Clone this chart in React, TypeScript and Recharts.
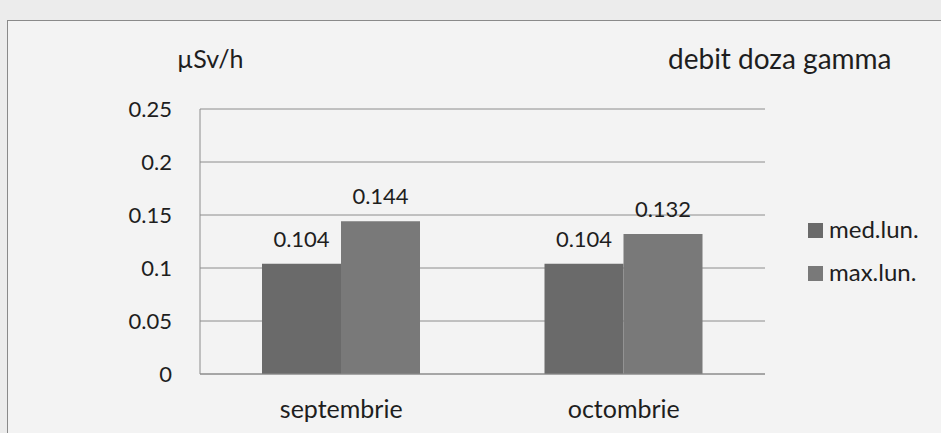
import React from 'react';
import { BarChart, Bar, XAxis, YAxis, CartesianGrid, LabelList } from 'recharts';

const categories = ['septembrie', 'octombrie'];
const medLun = [0.104, 0.104];
const maxLun = [0.144, 0.132];
const yTicks = [0, 0.05, 0.1, 0.15, 0.2, 0.25];
const seriesNames = ['med.lun.', 'max.lun.'];
const seriesColors = ['#6a6a6a', '#797979'];

const data = categories.map((c, i) => ({ name: c, med: medLun[i], max: maxLun[i] }));

const FONT = 'Lato, "Open Sans", sans-serif';
const INK = '#1e1e1e';

export default function App() {
  return (
    <div style={{ position: 'absolute', left: 0, top: 0, width: 941, height: 433, background: '#ececec', overflow: 'hidden', fontFamily: FONT }}>
      <div style={{ position: 'absolute', left: 7, top: 20, width: 1000, height: 500, border: '1px solid #8a8a8a', background: '#f3f3f3' }} />
      <div style={{ position: 'absolute', left: 0, top: 0 }}>
        <BarChart
          width={941}
          height={433}
          data={data}
          margin={{ top: 109, right: 176, bottom: 29, left: 140 }}
          barCategoryGap={62}
          barGap={0}
        >
          <CartesianGrid vertical={false} stroke="#8c8c8c" strokeWidth={1} />
          <XAxis
            dataKey="name"
            tickLine={false}
            axisLine={{ stroke: '#8c8c8c' }}
            tick={{ fill: INK, fontSize: 25, fontFamily: FONT }}
            tickMargin={20}
          />
          <YAxis
            width={60}
            domain={[0, 0.25]}
            ticks={yTicks}
            tickLine={false}
            tickSize={0}
            tickMargin={28}
            axisLine={{ stroke: '#8c8c8c' }}
            tick={{ fill: INK, fontSize: 22, fontFamily: FONT }}
            interval={0}
          />
          <Bar dataKey="med" fill={seriesColors[0]} isAnimationActive={false}>
            <LabelList dataKey="med" position="top" offset={17} fill={INK} fontSize={22} fontFamily={FONT} />
          </Bar>
          <Bar dataKey="max" fill={seriesColors[1]} isAnimationActive={false}>
            <LabelList dataKey="max" position="top" offset={17} fill={INK} fontSize={22} fontFamily={FONT} />
          </Bar>
        </BarChart>
      </div>
      <svg width={941} height={433} style={{ position: 'absolute', left: 0, top: 0 }}>
        <text x={177} y={68} fontSize={25} fill={INK} fontFamily={FONT}>µSv/h</text>
        <text x={668} y={69} fontSize={28} fill={INK} fontFamily={FONT}>debit doza gamma</text>
        {seriesNames.map((n, i) => (
          <g key={n}>
            <rect x={808} y={223 + i * 43} width={15} height={15} fill={seriesColors[i]} />
            <text x={829} y={238 + i * 43} fontSize={24} fill={INK} fontFamily={FONT}>{n}</text>
          </g>
        ))}
      </svg>
    </div>
  );
}
